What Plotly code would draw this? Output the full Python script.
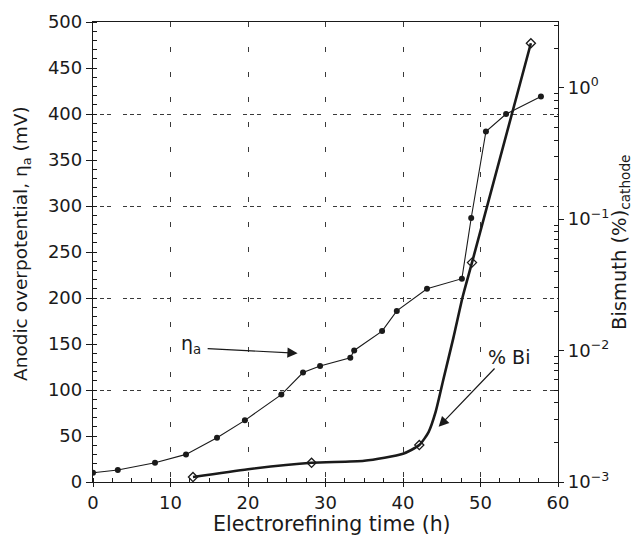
import plotly.graph_objects as go

# η_a (anodic overpotential, mV) vs time (h)
eta_time = [0, 3.2, 8, 12, 16, 19.6, 24.3, 27.1, 29.3, 33.2, 33.7, 37.3, 39.2, 43.1, 47.6, 48.8, 50.7, 53.3, 57.8]
eta_mv = [10, 13, 21, 30, 48, 67, 95, 119, 126, 135, 143, 164, 186, 210, 221, 287, 381, 400, 419]

# Bismuth in cathode (%) - measured points (diamonds)
bi_time = [12.9, 28.2, 42.1, 48.9, 56.5]
bi_pct = [1.09e-3, 1.40e-3, 1.91e-3, 0.0467, 2.18]

# Bismuth curve as drawn
bi_curve_time = [12.9, 20, 28.2, 35, 40, 42.1, 43.3, 44.2, 45.2, 46.5, 47.7, 48.9, 56.5]
bi_curve_pct = [1.09e-3, 1.25e-3, 1.40e-3, 1.45e-3, 1.64e-3, 1.91e-3, 2.4e-3, 3.4e-3, 6.0e-3, 0.0125, 0.0257, 0.0467, 2.18]

x_ticks = [0, 10, 20, 30, 40, 50, 60]
y_ticks = [0, 50, 100, 150, 200, 250, 300, 350, 400, 450, 500]
y2_tickvals = [1e-3, 1e-2, 1e-1, 1e0]
y2_ticktext = ["10<sup>−3</sup>", "10<sup>−2</sup>", "10<sup>−1</sup>", "10<sup>0</sup>"]
y2_minor_vals = [m * d for d in y2_tickvals for m in range(2, 10)]

FONT = "DejaVu Sans"
ink = "#1a1a1a"
grid_ink = "#3a3a3a"

fig = go.Figure()

# hidden helper axis for the 100 mV dashed gridlines
fig.add_trace(go.Scatter(x=[None], y=[None], yaxis="y3", showlegend=False, hoverinfo="skip"))

fig.add_trace(go.Scatter(
    x=eta_time, y=eta_mv, mode="lines+markers",
    line=dict(color=ink, width=1.1),
    marker=dict(symbol="circle", size=6, color=ink),
    showlegend=False,
))

fig.add_trace(go.Scatter(
    x=bi_curve_time, y=bi_curve_pct, yaxis="y2", mode="lines",
    line=dict(color=ink, width=2.6, shape="spline", smoothing=0.6),
    showlegend=False,
))
fig.add_trace(go.Scatter(
    x=bi_time, y=bi_pct, yaxis="y2", mode="markers",
    marker=dict(symbol="diamond-open", size=7, color=ink, line=dict(width=1.3, color=ink)),
    showlegend=False,
))

axis_common = dict(
    showline=True, linecolor=ink, linewidth=1.3,
    tickfont=dict(family=FONT, size=18, color=ink),
    tickcolor=ink, zeroline=False, automargin=False,
)

fig.update_layout(
    width=634, height=539,
    paper_bgcolor="white", plot_bgcolor="white",
    margin=dict(l=93, r=76, t=22, b=57),
    font=dict(family=FONT, color=ink),
    xaxis=dict(
        **axis_common,
        range=[0, 60], tickvals=x_ticks, ticks="outside", ticklen=4,
        mirror=True,
        showgrid=True, gridcolor=grid_ink, gridwidth=1, griddash="5px,20px",
        minor=dict(ticks="inside", dtick=2.5, ticklen=4, tickcolor=ink),
    ),
    yaxis=dict(
        **axis_common,
        range=[0, 500], tickvals=y_ticks, ticks="outside", ticklen=6,
        showgrid=False,
        minor=dict(ticks="inside", dtick=10, ticklen=4, tickcolor=ink),
    ),
    yaxis3=dict(
        overlaying="y", range=[0, 500], dtick=100, showgrid=True,
        gridcolor=grid_ink, gridwidth=1, griddash="4px,3px,4px,3px,4px,12px",
        showticklabels=False, ticks="", showline=False, zeroline=False, automargin=False,
    ),
    yaxis2=dict(
        **axis_common,
        overlaying="y", side="right", type="log", range=[-3, 0.5],
        tickvals=y2_tickvals, ticktext=y2_ticktext, ticks="outside", ticklen=5,
        showgrid=False,
        minor=dict(ticks="inside", tickvals=y2_minor_vals, ticklen=4, tickcolor=ink, showgrid=False),
    ),
)

# axis titles as annotations for exact placement
fig.add_annotation(xref="x domain", yref="y domain", x=(332 - 93) / 465, y=-(524 - 482) / 460,
                   text="Electrorefining time (h)", showarrow=False,
                   xanchor="center", yanchor="middle", font=dict(family=FONT, size=20.5, color=ink))
fig.add_annotation(xref="x domain", yref="y domain", x=-(93 - 22) / 465, y=(482 - 244) / 460,
                   text="Anodic overpotential, η<sub>a</sub> (mV)", textangle=-90, showarrow=False,
                   xanchor="center", yanchor="middle", font=dict(family=FONT, size=18.5, color=ink))
fig.add_annotation(xref="x domain", yref="y domain", x=1 + (620 - 558) / 465, y=(482 - 242) / 460,
                   text="Bismuth (%)<sub>cathode</sub>", textangle=-90, showarrow=False,
                   xanchor="center", yanchor="middle", font=dict(family=FONT, size=19.5, color=ink))

# in-plot labels and arrows
fig.add_annotation(x=12.7, y=150, xref="x", yref="y", text="η<sub>a</sub>", showarrow=False,
                   font=dict(family=FONT, size=19, color=ink), xanchor="center", yanchor="middle")
fig.add_annotation(x=26.4, y=140, ax=14.6, ay=145, xref="x", yref="y", axref="x", ayref="y",
                   text="", showarrow=True, arrowhead=2, arrowsize=1.7, arrowwidth=1.2, arrowcolor=ink)
fig.add_annotation(x=53.7, y=136, xref="x", yref="y", text="% Bi", showarrow=False,
                   font=dict(family=FONT, size=19, color=ink), xanchor="center", yanchor="middle")
fig.add_annotation(x=44.6, y=60, ax=52.0, ay=125, xref="x", yref="y", axref="x", ayref="y",
                   text="", showarrow=True, arrowhead=2, arrowsize=1.7, arrowwidth=1.2, arrowcolor=ink)

fig.write_html("out.html", config={"displayModeBar": False},
               post_script="document.body.style.margin='0';")
